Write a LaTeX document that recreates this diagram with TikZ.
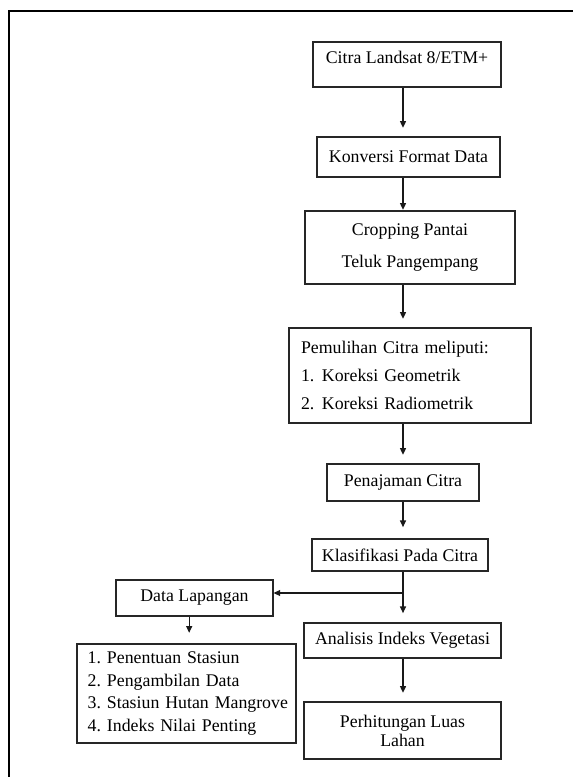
\documentclass[tikz,border=0pt]{standalone}
\usepackage{fontspec}
\setmainfont{Liberation Serif}
\usetikzlibrary{arrows.meta}

\tikzset{
  stepbox/.style={draw=black!85, line width=0.8pt, align=center, inner sep=0pt,
    font=\fontsize{13.35}{16}\selectfont},
  flow/.style={draw=black!90, line width=0.8pt, -{Triangle[length=5pt,width=4.5pt]},
    shorten >=6.5pt},
}

\begin{document}
\begin{tikzpicture}[x=0.75pt, y=-0.75pt]
    \useasboundingbox (0,0) rectangle (573,777);
    \fill[white] (0,0) rectangle (573,777);

    % Outer frame (only top and left edges show)
    \draw[line width=1.5pt] (9,777) -- (9,11) -- (573,11);

    % Main column
    \node[stepbox, minimum width=141pt, minimum height=33.75pt, text depth=11pt] (citra) at (407,64.5) {Citra Landsat 8/ETM+};
    \node[stepbox, minimum width=137.25pt, minimum height=30pt] (konversi) at (408.5,157) {Konversi Format Data};
    \node[stepbox, minimum width=157.5pt, minimum height=54.75pt, font=\fontsize{13.35}{24}\selectfont] (crop) at (410,247.5) {Cropping Pantai\\Teluk Pangempang};
    \node[stepbox, minimum height=71.25pt, text width=163.5pt, inner xsep=9pt, align=left, font=\fontsize{13.35}{21}\selectfont] (pemulihan) at (410,375.5)
        {Pemulihan Citra meliputi:\\\makebox[15.75pt][l]{1.}Koreksi Geometrik\\\makebox[15.75pt][l]{2.}Koreksi Radiometrik};
    \node[stepbox, minimum width=114pt, minimum height=27.75pt] (penajaman) at (403,482.5) {Penajaman Citra};
    \node[stepbox, minimum width=132pt, minimum height=24pt] (klasifikasi) at (400,555) {Klasifikasi Pada Citra};
    \node[stepbox, minimum width=147.75pt, minimum height=26.25pt] (analisis) at (402.5,640.5) {Analisis Indeks Vegetasi};
    \node[stepbox, minimum width=147.75pt, minimum height=42.75pt, font=\fontsize{13.35}{14.25}\selectfont] (luas) at (402.5,730.5) {Perhitungan Luas\\Lahan};

    % Field data branch
    \node[stepbox, minimum width=117.75pt, minimum height=27pt] (lapangan) at (194.5,598) {Data Lapangan};
    \node[stepbox, minimum height=74.25pt, text width=148.25pt, inner xsep=8pt, align=left, font=\fontsize{13.35}{17}\selectfont] (kegiatan) at (186.5,693.5)
        {\mbox{\makebox[14.5pt][l]{1.}Penentuan Stasiun}\\\mbox{\makebox[14.5pt][l]{2.}Pengambilan Data}\\
         \mbox{\makebox[14.5pt][l]{3.}Stasiun Hutan Mangrove}\\\mbox{\makebox[14.5pt][l]{4.}Indeks Nilai Penting}};

    % Arrows
    \coordinate (spine) at (403,0);
    \coordinate (split) at (403,593);
    \draw[flow] (citra.south -| spine) -- (konversi.north -| spine);
    \draw[flow, shorten >=0.5pt] (konversi.south -| spine) -- (crop.north -| spine);
    \draw[flow] (crop.south -| spine) -- (pemulihan.north -| spine);
    \draw[flow] (pemulihan.south -| spine) -- (penajaman.north -| spine);
    \draw[flow, shorten >=8.5pt] (penajaman.south -| spine) -- (klasifikasi.north -| spine);
    \draw[draw=black!90, line width=0.8pt] (klasifikasi.south -| spine) -- (split);
    \draw[flow, shorten >=7pt] (split) -- (analisis.north -| spine);
    \draw[flow, shorten >=0pt] (split) -- (lapangan.east |- split);
    \draw[flow, shorten >=8pt] ([xshift=-4pt]lapangan.south) -- ([xshift=-4pt]lapangan.south |- kegiatan.north);
    \draw[flow] (analisis.south -| spine) -- (luas.north -| spine);
\end{tikzpicture}
\end{document}
